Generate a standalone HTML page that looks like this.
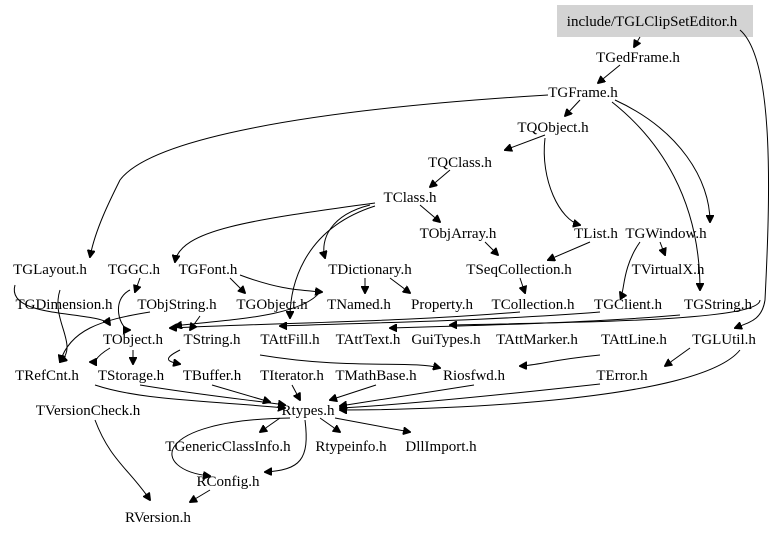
<!DOCTYPE html>
<html><head><meta charset="utf-8"><style>
html,body{margin:0;padding:0;background:#fff;}
svg{display:block}
text{font-family:"Liberation Serif",serif;font-size:15px;fill:#000;text-anchor:middle}
path,line,polyline{fill:none;stroke:#000;stroke-width:1}
</style></head><body>
<svg width="779" height="537" viewBox="0 0 779 537" xmlns="http://www.w3.org/2000/svg">
<defs><marker id="a" markerWidth="8" markerHeight="8" refX="7" refY="4" orient="auto" markerUnits="userSpaceOnUse"><path d="M0,0 L8,4 L0,8 z" style="fill:#000;stroke:#000"/></marker></defs>
<rect x="557" y="5" width="196" height="32" fill="#d3d3d3"/>
<g marker-end="url(#a)">
<path d="M640,37 L634,47"/>
<path d="M740,30 C775,60 770,200 765,300 C762,320 750,322 735,328"/>
<path d="M620,65 L598,83"/>
<path d="M580,100 L565,116"/>
<path d="M615,100 C680,130 710,180 710,222"/>
<path d="M612,102 C660,140 700,200 700,290"/>
<path d="M548,95 C300,110 150,140 120,180 C110,200 95,230 90,257"/>
<path d="M545,135 L505,150"/>
<path d="M545,138 C540,180 560,220 580,225"/>
<path d="M450,170 L430,187"/>
<path d="M420,205 L440,222"/>
<path d="M370,205 C330,215 320,240 325,258"/>
<path d="M375,203 C250,220 180,230 175,262"/>
<path d="M375,206 C300,230 290,290 290,318"/>
<path d="M485,242 L498,255"/>
<path d="M590,242 L548,260"/>
<path d="M660,242 L665,255"/>
<path d="M640,242 C620,270 625,300 620,292"/>
<path d="M520,278 L525,293"/>
<path d="M365,278 L365,293"/>
<path d="M390,278 L410,293"/>
<path d="M240,275 C280,290 300,290 322,292"/>
<path d="M230,278 L245,293"/>
<path d="M140,278 L135,292"/>
<path d="M15,285 C5,320 100,310 110,325"/>
<path d="M60,290 C50,320 80,345 60,362"/>
<path d="M130,290 C110,300 120,330 130,330"/>
<path d="M320,292 C300,318 220,320 175,326"/>
<path d="M520,312 C400,322 300,322 170,328"/>
<path d="M600,312 C500,320 400,322 280,326"/>
<path d="M680,315 C600,322 500,325 390,328"/>
<path d="M760,300 C760,320 600,322 450,325"/>
<path d="M150,312 C100,320 70,330 60,362"/>
<path d="M200,316 L190,330"/>
<path d="M133,350 L133,364"/>
<path d="M110,348 C90,360 100,362 90,362"/>
<path d="M180,350 C160,360 170,362 180,364"/>
<path d="M260,355 C350,370 410,360 440,368"/>
<path d="M600,355 C550,360 540,365 520,366"/>
<path d="M690,348 L665,366"/>
<path d="M140,385 C200,395 250,400 285,405"/>
<path d="M95,385 C140,400 200,400 285,408"/>
<path d="M212,385 L270,402"/>
<path d="M292,385 L300,400"/>
<path d="M376,385 L330,400"/>
<path d="M474,385 L340,406"/>
<path d="M600,384 C500,395 400,405 340,408"/>
<path d="M740,350 C700,400 450,410 340,410"/>
<path d="M280,418 L260,432"/>
<path d="M320,418 L340,432"/>
<path d="M335,418 L410,432"/>
<path d="M290,418 C150,420 150,470 210,476"/>
<path d="M305,420 C310,460 300,470 265,472"/>
<path d="M95,420 C110,460 130,470 150,500"/>
<path d="M210,490 L190,502"/>
</g>
<text x="652" y="26">include/TGLClipSetEditor.h</text>
<text x="638" y="62">TGedFrame.h</text>
<text x="583" y="97">TGFrame.h</text>
<text x="553" y="132">TQObject.h</text>
<text x="460" y="167">TQClass.h</text>
<text x="410" y="202">TClass.h</text>
<text x="458" y="238">TObjArray.h</text>
<text x="596" y="238">TList.h</text>
<text x="666" y="238">TGWindow.h</text>
<text x="50" y="274">TGLayout.h</text>
<text x="134" y="274">TGGC.h</text>
<text x="208" y="274">TGFont.h</text>
<text x="370" y="274">TDictionary.h</text>
<text x="519" y="274">TSeqCollection.h</text>
<text x="668" y="274">TVirtualX.h</text>
<text x="64" y="309">TGDimension.h</text>
<text x="177" y="309">TObjString.h</text>
<text x="272" y="309">TGObject.h</text>
<text x="359" y="309">TNamed.h</text>
<text x="442" y="309">Property.h</text>
<text x="533" y="309">TCollection.h</text>
<text x="628" y="309">TGClient.h</text>
<text x="718" y="309">TGString.h</text>
<text x="133" y="344">TObject.h</text>
<text x="212" y="344">TString.h</text>
<text x="290" y="344">TAttFill.h</text>
<text x="368" y="344">TAttText.h</text>
<text x="446" y="344">GuiTypes.h</text>
<text x="537" y="344">TAttMarker.h</text>
<text x="634" y="344">TAttLine.h</text>
<text x="724" y="344">TGLUtil.h</text>
<text x="47" y="380">TRefCnt.h</text>
<text x="131" y="380">TStorage.h</text>
<text x="212" y="380">TBuffer.h</text>
<text x="292" y="380">TIterator.h</text>
<text x="376" y="380">TMathBase.h</text>
<text x="474" y="380">Riosfwd.h</text>
<text x="622" y="380">TError.h</text>
<text x="88" y="415">TVersionCheck.h</text>
<text x="308" y="415">Rtypes.h</text>
<text x="228" y="451">TGenericClassInfo.h</text>
<text x="351" y="451">Rtypeinfo.h</text>
<text x="441" y="451">DllImport.h</text>
<text x="228" y="486">RConfig.h</text>
<text x="158" y="522">RVersion.h</text>
</svg>
</body></html>
